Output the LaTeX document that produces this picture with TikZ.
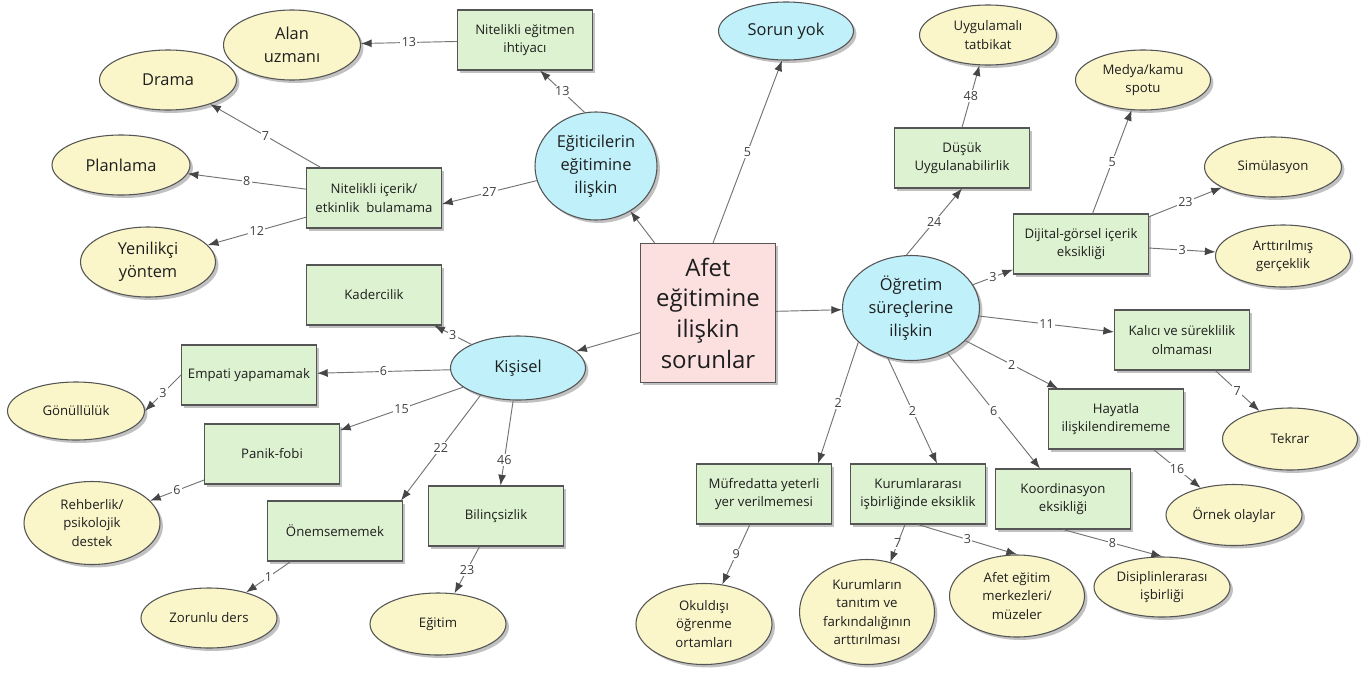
\documentclass[tikz,border=0pt]{standalone}
\usepackage{fontspec}
\setmainfont{Open Sans}
\usetikzlibrary{shapes.geometric,arrows.meta,shadows,calc}
\definecolor{pinkf}{RGB}{252,224,224}
\definecolor{cyanf}{RGB}{192,240,250}
\definecolor{greenf}{RGB}{221,242,208}
\definecolor{yellf}{RGB}{250,246,202}
\definecolor{bordc}{RGB}{85,85,85}
\definecolor{linec}{RGB}{115,115,115}
\definecolor{arrc}{RGB}{70,70,70}
\definecolor{txtc}{RGB}{30,30,30}
\tikzset{
  sz/.style 2 args={minimum width={#1*0.75pt}, minimum height={#2*0.75pt}},
  shad/.style={drop shadow={shadow xshift=2.2pt, shadow yshift=-2.2pt, opacity=0.4, fill=black!60}},
  smallf/.style={font=\fontsize{9.9}{13.7}\selectfont},
  medf/.style={font=\fontsize{12.3}{17.2}\selectfont},
  gbox/.style={rectangle, draw=bordc, line width=0.8pt, fill=greenf, shad, sz={135}{60}, align=center, smallf, inner sep=1pt, text=txtc},
  yell/.style={ellipse, draw=bordc, line width=0.8pt, fill=yellf, shad, align=center, smallf, inner sep=0pt, text=txtc},
  yellbig/.style={yell, medf},
  cyanell/.style={ellipse, draw=bordc, line width=0.8pt, fill=cyanf, shad, align=center, medf, inner sep=0pt, text=txtc},
  bigbox/.style={rectangle, draw=bordc, line width=0.8pt, fill=pinkf, shad, sz={135}{139}, align=center, font=\fontsize{18}{23}\selectfont, inner sep=1pt, text=txtc},
  edge/.style={draw=linec, line width=0.7pt, -{Latex[length=8pt,width=6pt,color=arrc]}},
  lab/.style={fill=white, inner sep=1pt, font=\fontsize{9.4}{11}\selectfont, text=black!75}
}
\begin{document}
\begin{tikzpicture}[x=0.75pt,y=-0.75pt]
\useasboundingbox[fill=white] (0,0) rectangle (1367,675);

\node[bigbox] (cen) at (708,313) {Afet\\eğitimine\\ilişkin\\sorunlar};
\node[cyanell, sz={122}{108}] (egi) at (596,166) {Eğiticilerin\\eğitimine\\ilişkin};
\node[cyanell, sz={135}{58}] (sor) at (786,31) {Sorun yok};
\node[gbox] (nie) at (525,40) {Nitelikli eğitmen\\ihtiyacı};
\node[yellbig, sz={137}{70}] (alan) at (292,45) {Alan\\uzmanı};
\node[yellbig, sz={137}{60}] (drama) at (168,80) {Drama};
\node[yellbig, sz={138}{60}] (plan) at (121,165) {Planlama};
\node[gbox] (nit) at (374,198) {Nitelikli içerik/\\etkinlik\ \ bulamama};
\node[yellbig, sz={135}{70}] (yen) at (148,262) {Yenilikçi\\yöntem};
\node[gbox] (kad) at (374,295) {Kadercilik};
\node[cyanell, sz={135}{64}] (kis) at (518,368) {Kişisel};
\node[gbox] (emp) at (249,375) {Empati yapamamak};
\node[yell, sz={137}{58}] (gon) at (76,411) {Gönüllülük};
\node[gbox] (pan) at (272,454) {Panik-fobi};
\node[yell, sz={136}{83}] (reh) at (92,523) {Rehberlik/\\psikolojik\\destek};
\node[gbox] (one) at (335,531) {Önemsememek};
\node[yell, sz={136}{60}] (zor) at (209,618) {Zorunlu ders};
\node[gbox] (bil) at (496,516) {Bilinçsizlik};
\node[yell, sz={136}{62}] (egt) at (438,624) {Eğitim};
\node[cyanell, sz={137}{105}] (ogr) at (911,308) {Öğretim\\süreçlerine\\ilişkin};
\node[gbox] (dus) at (962,158) {Düşük\\Uygulanabilirlik};
\node[yell, sz={137}{60}] (uyg) at (988,35) {Uygulamalı\\tatbikat};
\node[gbox] (dij) at (1081,244) {Dijital-görsel içerik\\eksikliği};
\node[yell, sz={135}{60}] (med) at (1143,80) {Medya/kamu\\spotu};
\node[yell, sz={137}{60}] (sim) at (1273,167) {Simülasyon};
\node[yell, sz={135}{62}] (art) at (1283,256) {Arttırılmış\\gerçeklik};
\node[gbox] (kal) at (1182,340) {Kalıcı ve süreklilik\\olmaması};
\node[yell, sz={135}{62}] (tek) at (1290,439) {Tekrar};
\node[gbox] (hay) at (1116,419) {Hayatla\\ilişkilendirememe};
\node[yell, sz={136}{61}] (orn) at (1234,515) {Örnek olaylar};
\node[gbox] (koo) at (1063,499) {Koordinasyon\\eksikliği};
\node[yell, sz={136}{60}] (dis) at (1162,587) {Disiplinlerarası\\işbirliği};
\node[gbox] (kur) at (918,494) {Kurumlararası\\işbirliğinde eksiklik};
\node[yell, sz={135}{82}] (afm) at (1017,596) {Afet eğitim\\merkezleri/\\müzeler};
\node[yell, sz={135}{105}] (kurt) at (867,612) {Kurumların\\tanıtım ve\\farkındalığının\\arttırılması};
\node[gbox] (muf) at (764,494) {Müfredatta yeterli\\yer verilmemesi};
\node[yell, sz={136}{81}] (okd) at (704,624) {Okuldışı\\öğrenme\\ortamları};

\draw[edge] (cen) -- (egi);
\draw[edge] ($(cen.north)+(5,0)$) -- node[lab]{5} ($(sor.south)+(-4,0)$);
\draw[edge] (cen) -- (kis);
\draw[edge] (cen) -- (ogr);
\draw[edge] (egi.102) -- node[lab]{13} ($(nie.south)+(15,0)$);
\draw[edge] (egi) -- node[lab]{27} ($(nit.east)+(0,6)$);
\draw[edge] (nie) -- node[lab]{13} (alan);
\draw[edge] (nit) -- node[lab]{7} (drama);
\draw[edge] (nit) -- node[lab]{8} (plan);
\draw[edge] (nit) -- node[lab]{12} (yen);
\draw[edge] (kis) -- node[lab]{3} (kad);
\draw[edge] (kis) -- node[lab]{6} (emp);
\draw[edge] (kis) -- node[lab]{15} (pan);
\draw[edge] (kis.216) -- node[lab]{22} ($(one.north east)+(-2,0)$);
\draw[edge] (kis) -- node[lab,pos=0.7]{46} (bil);
\draw[edge] (emp.west) -- node[lab]{3} (gon.east);
\draw[edge] (pan) -- node[lab]{6} (reh);
\draw[edge] (one) -- node[lab]{1} (zor);
\draw[edge] (bil) -- node[lab]{23} (egt);
\draw[edge] (ogr.95) -- node[lab]{24} (dus.south);
\draw[edge] (ogr) -- node[lab]{3} (dij);
\draw[edge] (ogr) -- node[lab]{11} (kal);
\draw[edge] (ogr.329) -- node[lab]{2} ($(hay.north west)+(10,0)$);
\draw[edge] (ogr.309) -- node[lab]{6} ($(koo.north)+(-23,0)$);
\draw[edge] (ogr.245) -- node[lab]{2} ($(kur.north)+(19,0)$);
\draw[edge] (ogr.213) -- node[lab]{2} ($(muf.north east)+(-14,0)$);
\draw[edge] (dus.north) -- node[lab]{48} (uyg);
\draw[edge] (dij) -- node[lab]{5} (med);
\draw[edge] (dij) -- node[lab]{23} (sim);
\draw[edge] (dij) -- node[lab]{3} (art);
\draw[edge] (kal) -- node[lab]{7} (tek);
\draw[edge] (hay) -- node[lab]{16} (orn);
\draw[edge] (koo.south) -- node[lab]{8} (dis.north);
\draw[edge] (kur.south) -- node[lab]{3} (afm.north);
\draw[edge] ($(kur.south)+(-13,0)$) -- node[lab]{7} (kurt.65);
\draw[edge] (muf) -- node[lab]{9} (okd);
\end{tikzpicture}
\end{document}
